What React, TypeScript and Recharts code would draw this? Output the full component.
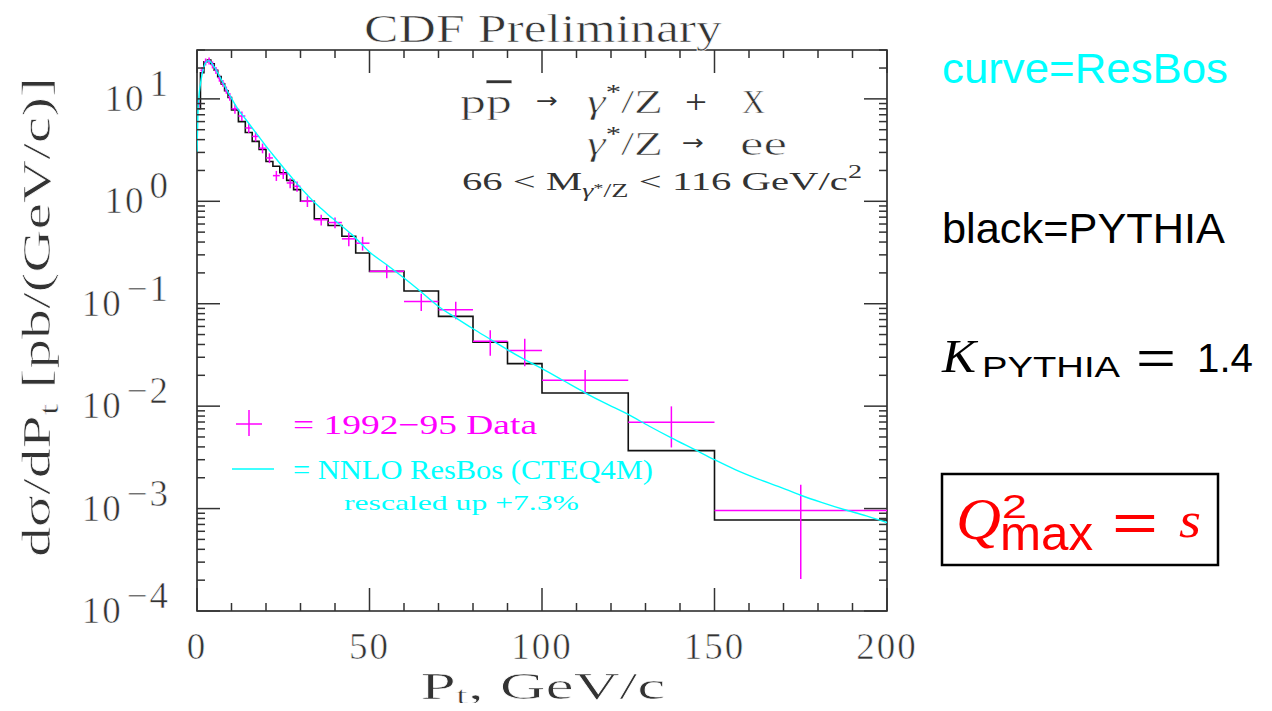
import React from "react";
import { ComposedChart, Line, Scatter, ErrorBar, XAxis, YAxis, ReferenceArea } from "recharts";

// NNLO ResBos curve (cyan)
const resbosPt = [0, 0.25, 0.5, 1, 1.5, 2, 2.5, 3, 3.5, 4, 5, 6, 7, 8, 9, 10, 12, 14, 16, 18, 20, 22, 24, 26, 28, 30, 32, 34, 36, 38, 40, 45, 50, 55, 60, 65, 70, 75, 80, 85, 90, 95, 100, 106, 112.5, 118, 125, 131, 137.5, 144, 150, 156, 162.5, 169, 175, 181, 187.5, 194, 200];
const resbosVal = [3.0, 7, 10, 14, 17.5, 20.5, 22.5, 23.5, 23.5, 22.8, 20.5, 18, 15.5, 13.4, 11.6, 10.1, 7.8, 6.4, 5.2, 4.25, 3.45, 2.85, 2.35, 1.95, 1.62, 1.36, 1.15, 0.98, 0.85, 0.74, 0.65, 0.47, 0.32, 0.24, 0.178, 0.13, 0.094, 0.073, 0.057, 0.045, 0.0355, 0.0285, 0.0232, 0.0179, 0.0135, 0.0108, 0.0083, 0.0064, 0.0049, 0.0038, 0.003, 0.0024, 0.00195, 0.00162, 0.00135, 0.00115, 0.00098, 0.00085, 0.00073];

// PYTHIA histogram (black): bin edges and bin contents
const histEdges = [0, 1, 2, 3, 4, 5, 6, 7, 8, 9, 10, 12, 14, 16, 18, 20, 22, 24, 26, 28, 30, 34, 38, 42, 46, 50, 60, 70, 80, 90, 100, 125, 150, 200];
const histVal = [8, 18, 23, 24, 22, 19, 16.5, 14, 12, 10.3, 7.8, 6.0, 4.7, 3.85, 3.2, 2.45, 2.2, 1.9, 1.6, 1.3, 1.0, 0.673, 0.58, 0.455, 0.313, 0.207, 0.133, 0.0753, 0.042, 0.026, 0.01345, 0.00368, 0.000774];

// 1992-95 data (magenta)
const dataPt = [0.5, 1.5, 2.5, 3.5, 4.5, 5.5, 6.5, 7.5, 8.5, 9.5, 11, 13, 15, 17, 19, 21, 23, 25, 27, 29, 32, 36, 40, 44, 48, 55, 65, 75, 85, 95, 112.5, 137.5, 175];
const dataVal = [9, 19, 23, 23.5, 21.5, 19, 16, 14.2, 12.2, 10.5, 8.0, 6.8, 5.2, 4.3, 3.3, 2.65, 1.78, 1.85, 1.51, 1.4, 1.0, 0.66, 0.62, 0.43, 0.39, 0.207, 0.105, 0.0875, 0.043, 0.035, 0.0179, 0.00695, 0.000955];
const dataErrX = [0.5, 0.5, 0.5, 0.5, 0.5, 0.5, 0.5, 0.5, 0.5, 0.5, 1, 1, 1, 1, 1, 1, 1, 1, 1, 1, 2, 2, 2, 2, 2, 5, 5, 5, 5, 5, 12.5, 12.5, 25];
const dataErrY = [0.7, 1.5, 1.8, 1.9, 1.7, 1.5, 1.3, 1.1, 1.0, 0.9, 0.85, 0.72, 0.55, 0.46, 0.36, 0.29, 0.2, 0.2, 0.17, 0.16, 0.12, 0.08, 0.075, 0.065, 0.06, 0.03, 0.02, 0.017, 0.012, 0.0105, 0.0047, 0.003, 0.00075];

const xTicks = [0, 10, 20, 30, 40, 50, 60, 70, 80, 90, 100, 110, 120, 130, 140, 150, 160, 170, 180, 190, 200];
const decades = [1e-4, 1e-3, 1e-2, 1e-1, 1, 10];
const yTicks = decades.flatMap((d) => [1, 2, 3, 4, 5, 6, 7, 8, 9].map((m) => m * d)).filter((v) => v <= 30);

const resbos = resbosPt.map((pt, i) => ({ pt, v: resbosVal[i] }));
const hist = histEdges.map((pt, i) => ({ pt, v: histVal[Math.min(i, histVal.length - 1)] }));
const points = dataPt.map((pt, i) => ({ pt, v: dataVal[i], ex: dataErrX[i], ey: dataErrY[i] }));

const PLOT_W = 690;
const PLOT_H = 561;
const SERIF = "'Liberation Serif', 'Times New Roman', serif";
const SANS = "'Liberation Sans', Arial, sans-serif";
const ARROW = "'DejaVu Sans', sans-serif";
const INK = "#333";
const CYAN = "#00ffff";
const MAGENTA = "#ff00ff";
// thin the big serif glyphs a little, the original uses a light stroked font
const thin = { stroke: "#fff", strokeWidth: 0.6 };
const noThin = { stroke: "none" };

const isDecade = (v: number) => Math.abs(Math.log10(v) - Math.round(Math.log10(v))) < 1e-6;

function YTick(props: any) {
  const { x, y, payload } = props;
  const major = isDecade(payload.value);
  const len = major ? 23 : 8;
  const exp = Math.round(Math.log10(payload.value));
  return (
    <g>
      <line x1={x} y1={y} x2={x + len} y2={y} stroke={INK} strokeWidth={1.5} />
      <line x1={x + PLOT_W} y1={y} x2={x + PLOT_W - len} y2={y} stroke={INK} strokeWidth={1.5} />
      {major && (
        <text x={x - 27} y={y + 12} textAnchor="end" fontFamily={SERIF} fontSize={37} fill={INK} letterSpacing={2} {...thin}>
          10<tspan dx={4} dy={-15}>{exp < 0 ? "\u2212" + -exp : String(exp)}</tspan>
        </text>
      )}
    </g>
  );
}

function XTick(props: any) {
  const { x, y, payload } = props;
  const major = payload.value % 50 === 0;
  const len = major ? 23 : 8;
  return (
    <g>
      <line x1={x} y1={y} x2={x} y2={y - len} stroke={INK} strokeWidth={1.5} />
      <line x1={x} y1={y - PLOT_H} x2={x} y2={y - PLOT_H + len} stroke={INK} strokeWidth={1.5} />
      {major && (
        <text x={x} y={y + 48} textAnchor="middle" fontFamily={SERIF} fontSize={37} fill={INK} letterSpacing={2} {...thin}>
          {payload.value}
        </text>
      )}
    </g>
  );
}

function Overlay() {
  const serif = { fontFamily: SERIF, fill: INK, ...thin };
  const small = { fontFamily: SERIF, fill: INK };
  return (
    <svg width={1264} height={711} style={{ position: "absolute", left: -8, top: -8, pointerEvents: "none" }}>
      <text x={543} y={42} textAnchor="middle" fontSize={40} textLength={358} lengthAdjust="spacingAndGlyphs" {...serif}>
        CDF Preliminary
      </text>

      <text transform="translate(50,317) rotate(-90)" x={0} y={0} textAnchor="middle" fontSize={40} textLength={480} lengthAdjust="spacingAndGlyphs" {...serif}>
        dσ/dP<tspan dy={8} fontSize={28}>t</tspan>
        <tspan dy={-8}> [pb/(GeV/c)]</tspan>
      </text>

      <text x={543} y={699} textAnchor="middle" fontSize={38} textLength={245} lengthAdjust="spacingAndGlyphs" {...serif}>
        P<tspan dy={5} fontSize={26}>t</tspan>
        <tspan dy={-5}>, GeV/c</tspan>
      </text>

      {/* process annotation */}
      <text x={460} y={113} fontSize={34} textLength={52} lengthAdjust="spacingAndGlyphs" {...serif}>
        p<tspan style={{ textDecoration: "overline" }}>p</tspan>
      </text>
      <text x={536} y={108} fontSize={22} textLength={22} lengthAdjust="spacingAndGlyphs" fontFamily={ARROW} fill={INK}>→</text>
      <text x={587} y={113} fontSize={34} textLength={76} lengthAdjust="spacingAndGlyphs" {...serif}>
        <tspan fontStyle="italic">γ</tspan>
        <tspan dy={-14} fontSize={22} {...noThin}>*</tspan>
        <tspan dy={14}>/Z</tspan>
      </text>
      <text x={685} y={113} fontSize={34} textLength={22} lengthAdjust="spacingAndGlyphs" {...small}>+</text>
      <text x={742} y={113} fontSize={34} textLength={23} lengthAdjust="spacingAndGlyphs" {...serif}>X</text>

      <text x={587} y={155} fontSize={34} textLength={76} lengthAdjust="spacingAndGlyphs" {...serif}>
        <tspan fontStyle="italic">γ</tspan>
        <tspan dy={-14} fontSize={22} {...noThin}>*</tspan>
        <tspan dy={14}>/Z</tspan>
      </text>
      <text x={682} y={150} fontSize={22} textLength={22} lengthAdjust="spacingAndGlyphs" fontFamily={ARROW} fill={INK}>→</text>
      <text x={740} y={155} fontSize={34} textLength={47} lengthAdjust="spacingAndGlyphs" {...serif}>ee</text>

      <text x={462} y={190} fontSize={26} textLength={400} lengthAdjust="spacingAndGlyphs" {...small}>
        66 {"<"} M<tspan dy={7} fontSize={18} fontStyle="italic">γ</tspan>
        <tspan dy={-5} fontSize={13}>*</tspan>
        <tspan dy={5} fontSize={18}>/Z</tspan>
        <tspan dy={-7}> {"<"} 116 GeV/c</tspan>
        <tspan dy={-12} fontSize={18}>2</tspan>
      </text>

      {/* legend */}
      <line x1={236} y1={424} x2={262} y2={424} stroke={MAGENTA} strokeWidth={1.5} />
      <line x1={249} y1={410} x2={249} y2={436} stroke={MAGENTA} strokeWidth={1.5} />
      <text x={293} y={434} fontSize={28} textLength={244} lengthAdjust="spacingAndGlyphs" fontFamily={SERIF} fill={MAGENTA}>
        = 1992−95 Data
      </text>
      <line x1={232} y1={469} x2={274} y2={469} stroke={CYAN} strokeWidth={1.5} />
      <text x={293} y={479} fontSize={28} textLength={360} lengthAdjust="spacingAndGlyphs" fontFamily={SERIF} fill={CYAN}>
        = NNLO ResBos (CTEQ4M)
      </text>
      <text x={344} y={510} fontSize={22} textLength={235} lengthAdjust="spacingAndGlyphs" fontFamily={SERIF} fill={CYAN}>
        rescaled up +7.3%
      </text>

      {/* right panel */}
      <text x={942} y={83} fontSize={43} textLength={286} lengthAdjust="spacingAndGlyphs" fontFamily={SANS} fill={CYAN}>
        curve=ResBos
      </text>
      <text x={942} y={243} fontSize={43} textLength={283} lengthAdjust="spacingAndGlyphs" fontFamily={SANS} fill="#000">
        black=PYTHIA
      </text>
      <text x={942} y={372} fontSize={46} fontStyle="italic" textLength={34} lengthAdjust="spacingAndGlyphs" fontFamily={SERIF} fill="#000">K</text>
      <text x={982} y={377} fontSize={30} textLength={138} lengthAdjust="spacingAndGlyphs" fontFamily={SANS} fill="#000">PYTHIA</text>
      <text x={1136} y={374} fontSize={46} textLength={40} lengthAdjust="spacingAndGlyphs" fontFamily={SANS} fill="#000">=</text>
      <text x={1197} y={372} fontSize={41} textLength={56} lengthAdjust="spacingAndGlyphs" fontFamily={SANS} fill="#000">1.4</text>

      <rect x={942} y={474} width={276} height={91} fill="none" stroke="#000" strokeWidth={2.5} />
      <text x={956} y={539} fontSize={60} fontStyle="italic" textLength={45} lengthAdjust="spacingAndGlyphs" fontFamily={SERIF} fill="#ff0000">Q</text>
      <text x={1002} y={518} fontSize={34} textLength={25} lengthAdjust="spacingAndGlyphs" fontFamily={SANS} fill="#ff0000">2</text>
      <text x={1000} y={550} fontSize={48} textLength={93} lengthAdjust="spacingAndGlyphs" fontFamily={SANS} fill="#ff0000">max</text>
      <text x={1112} y={541} fontSize={54} textLength={46} lengthAdjust="spacingAndGlyphs" fontFamily={SANS} fill="#ff0000">=</text>
      <text x={1179} y={537} fontSize={50} fontStyle="italic" textLength={22} lengthAdjust="spacingAndGlyphs" fontFamily={SERIF} fill="#ff0000">s</text>
    </svg>
  );
}

export default function App() {
  return (
    <div style={{ position: "relative", width: 1256, height: 695 }}>
      <ComposedChart width={1256} height={695} margin={{ top: 42, right: 377, bottom: 32, left: 89 }}>
        <XAxis
          xAxisId={0}
          type="number"
          dataKey="pt"
          domain={[0, 200]}
          allowDataOverflow
          ticks={xTicks}
          interval={0}
          height={60}
          tickSize={0}
          tickMargin={0}
          axisLine={false}
          tickLine={false}
          tick={<XTick />}
        />
        <YAxis
          yAxisId={0}
          type="number"
          scale="log"
          domain={[1e-4, 30]}
          allowDataOverflow
          ticks={yTicks}
          interval={0}
          width={100}
          tickSize={0}
          tickMargin={0}
          axisLine={false}
          tickLine={false}
          tick={<YTick />}
        />
        <ReferenceArea x1={0} x2={200} y1={1e-4} y2={30} fill="none" stroke="#222" strokeWidth={1.6} />
        <Line data={hist} dataKey="v" type="stepAfter" stroke="#111" strokeWidth={1.6} dot={false} isAnimationActive={false} />
        <Scatter data={points} dataKey="v" fill={MAGENTA} shape={() => <g />} isAnimationActive={false}>
          <ErrorBar dataKey="ex" direction="x" width={0} stroke={MAGENTA} strokeWidth={1.5} isAnimationActive={false} />
          <ErrorBar dataKey="ey" direction="y" width={0} stroke={MAGENTA} strokeWidth={1.5} isAnimationActive={false} />
        </Scatter>
        <Line data={resbos} dataKey="v" type="monotone" stroke={CYAN} strokeWidth={1.4} dot={false} isAnimationActive={false} />
      </ComposedChart>
      <Overlay />
    </div>
  );
}
